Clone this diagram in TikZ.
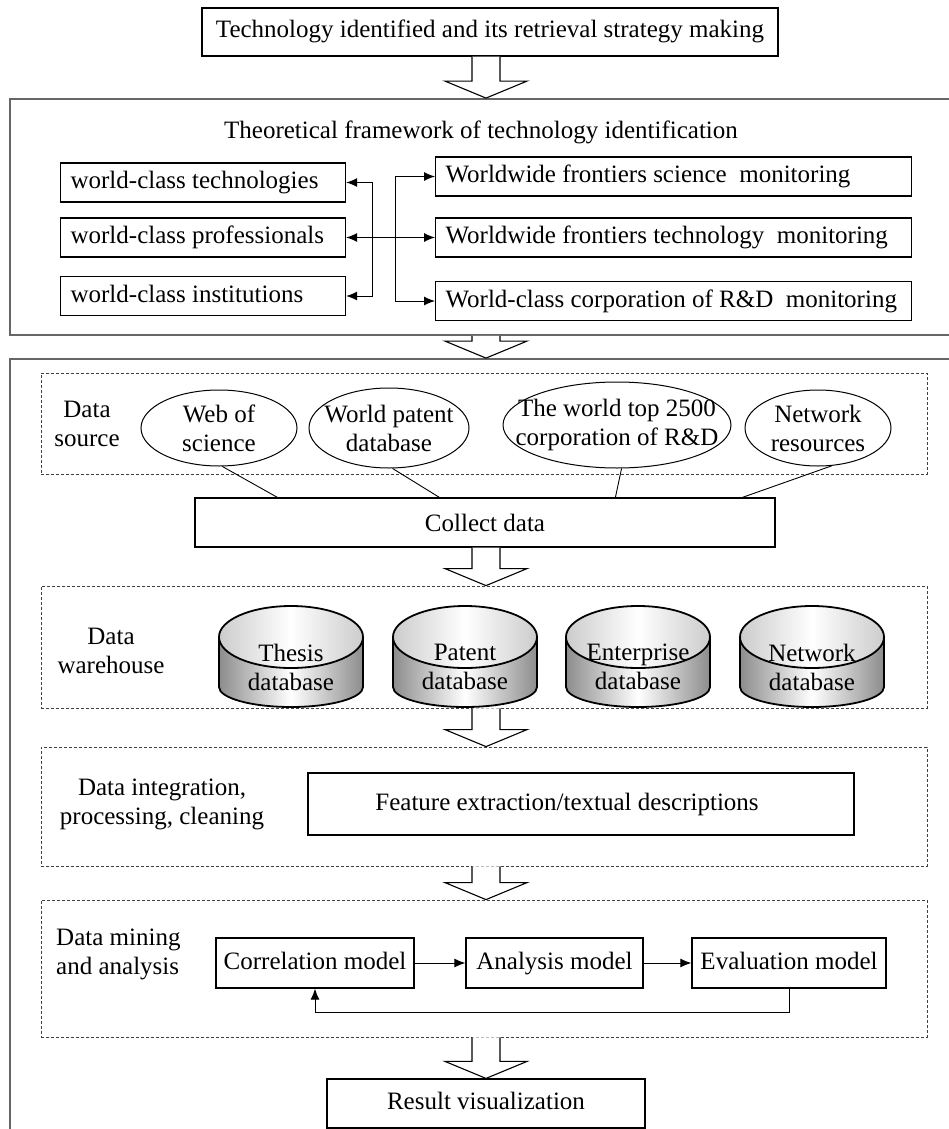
\documentclass[tikz,border=0pt]{standalone}
\usepackage{fontspec}
\setmainfont{Liberation Serif}
\usetikzlibrary{shapes.geometric,arrows.meta,calc}

\newcommand{\lft}[2]{\makebox[#1][l]{#2}}
\newcommand{\hollowarrow}[2]{%
  \draw[hollow] ($(#1.south -| mid)+(-14,0)$) -- ($(#2.north -| mid)+(-14,-17)$)
    -- ($(#2.north -| mid)+(-41,-17)$) -- (#2.north -| mid)
    -- ($(#2.north -| mid)+(41,-17)$) -- ($(#2.north -| mid)+(14,-17)$)
    -- ($(#1.south -| mid)+(14,0)$);}

\begin{document}
\begin{tikzpicture}[x=1pt, y=-1pt,
  font=\fontsize{25}{29}\selectfont,
  box/.style={draw, line width=1.2pt, inner sep=0pt, minimum height=49, text height=17pt, text depth=5pt},
  sidebox/.style={draw, line width=1.2pt, inner xsep=10pt, inner ysep=0pt, minimum height=39, text height=17pt, text depth=5pt, anchor=west},
  frame/.style={draw=black!60, line width=1.8pt, inner sep=0pt, minimum width=960},
  region/.style={draw=black!75, line width=0.8pt, dash pattern=on 3pt off 2pt, inner sep=0pt, minimum width=886},
  source/.style={draw, ellipse, line width=1pt, inner sep=0pt},
  caption/.style={align=center, inner sep=0pt},
  link/.style={{Latex[length=11pt,width=9pt]}-{Latex[length=11pt,width=9pt]}, line width=1pt},
  flow/.style={-{Latex[length=11pt,width=9pt]}, line width=1pt},
  hollow/.style={draw, fill=white, line width=1.1pt}]
\useasboundingbox (0,0) rectangle (949,1129);
\clip (0,0) rectangle (949,1129);
\fill[white] (0,0) rectangle (949,1129);
\coordinate (mid) at (486,0);

\node[box, minimum width=576, minimum height=48] (top) at (490,32) {Technology identified and its retrieval strategy making};

% framework
\node[frame, minimum height=236] (fw) at (490,217) {};
\hollowarrow{top}{fw}
\node[caption] (fwtitle) at (481,132) {Theoretical framework of technology identification};
\node[sidebox] (lt1) at (60,182.5) {\lft{265pt}{world-class technologies}};
\node[sidebox] (lt2) at (60,237.5) {\lft{265pt}{world-class professionals}};
\node[sidebox] (lt3) at (60,296) {\lft{265pt}{world-class institutions}};
\node[sidebox] (rt1) at (435,176.5) {\lft{456pt}{Worldwide frontiers science\ \ monitoring}};
\node[sidebox] (rt2) at (435,237.5) {\lft{456pt}{Worldwide frontiers technology\ \ monitoring}};
\node[sidebox] (rt3) at (435,301) {\lft{456pt}{World-class corporation of R\&D\ \ monitoring}};
\coordinate (vl) at (372,0);
\coordinate (vr) at (395,0);
\draw[link] (lt1.east) -- (lt1.east -| vl) -- (lt3.east -| vl) -- (lt3.east);
\draw[link] (rt1.west) -- (rt1.west -| vr) -- (rt3.west -| vr) -- (rt3.west);
\draw[link] (lt2.east) -- (rt2.west);

% main part
\node[frame, minimum height=802] (mf) at (490,760) {};
\hollowarrow{fw}{mf}

\node[region, minimum height=101] (ds) at (484,423.5) {};
\node[caption] (dslabel) at (87,424) {Data\\source};
\node[source, minimum width=156, minimum height=76, label={[caption,name=e1t]center:Web of\\science}] (e1) at (219,428) {};
\node[source, minimum width=160, minimum height=80, label={[caption,name=e2t]center:World patent\\database}] (e2) at (389,428) {};
\node[source, minimum width=228, minimum height=86, label={[caption,name=e3t]center:The world top 2500\\corporation of R\&D}] (e3) at (617,425) {};
\node[source, minimum width=146, minimum height=76, label={[caption,name=e4t]center:Network\\resources}] (e4) at (818,428) {};
\node[box, minimum width=580, label={[name=cdt]center:Collect data}] (cd) at (485,522.5) {};
\draw[line width=0.9pt] (e1.275) -- ($(cd.north west)+(83,0)$);
\draw[line width=0.9pt] (e2.275) -- ($(cd.north west)+(245,0)$);
\draw[line width=0.9pt] (e3.276) -- ($(cd.north west)+(421,0)$);
\draw[line width=0.9pt] (e4.290) -- ($(cd.north west)+(548,0)$);

\node[region, minimum height=122] (dw) at (484,647) {};
\hollowarrow{cd}{dw}
\node[caption] (dwlabel) at (111,651) {Data\\warehouse};
\foreach \cx/\cn/\ct in {291/thesis/Thesis,465/patent/Patent,638/enterprise/Enterprise,812/network/Network}
{
  \shade[left color=black!45, right color=black!45, middle color=white]
    (\cx-72,637) -- (\cx-72,687) arc[start angle=180, end angle=360, x radius=72pt, y radius=20pt]
    -- (\cx+72,637) arc[start angle=0, end angle=180, x radius=72pt, y radius=31pt] -- cycle;
  \draw[line width=1.8pt] (\cx-72,637) -- (\cx-72,687) arc[start angle=180, end angle=360, x radius=72pt, y radius=20pt] -- (\cx+72,637);
  \shadedraw[left color=black!20, right color=black!20, middle color=white, line width=1.8pt]
    (\cx,637) ellipse[x radius=72pt, y radius=31pt];
  \node[caption] (\cn) at (\cx,667) {\ct\\database};
}

\node[region, minimum height=119] (di) at (484,806.5) {};
\hollowarrow{dw}{di}
\node[caption] (dilabel) at (162,804) {Data integration,\\processing, cleaning};
\node[box, minimum width=546, minimum height=62, label={[name=fet, xshift=-14pt]center:Feature extraction/textual descriptions}] (fe) at (581,804) {};

\node[region, minimum height=137] (dm) at (484,968.5) {};
\hollowarrow{di}{dm}
\node[caption, align=left, anchor=west] (dmlabel) at (56,954) {Data mining\\and analysis};
\node[box, minimum width=198, minimum height=50] (cm) at (315,963) {Correlation model};
\node[box, minimum width=177, minimum height=50] (am) at (554.5,963) {Analysis model};
\node[box, minimum width=194, minimum height=50] (em) at (789,963) {Evaluation model};
\draw[flow] (cm) -- (am);
\draw[flow] (am) -- (em);
\draw[flow] (em.south) -- ++(0,24) -| (cm.south);

\node[box, minimum width=318, minimum height=49] (rv) at (486,1103.5) {Result visualization};
\hollowarrow{dm}{rv}
\end{tikzpicture}
\end{document}
